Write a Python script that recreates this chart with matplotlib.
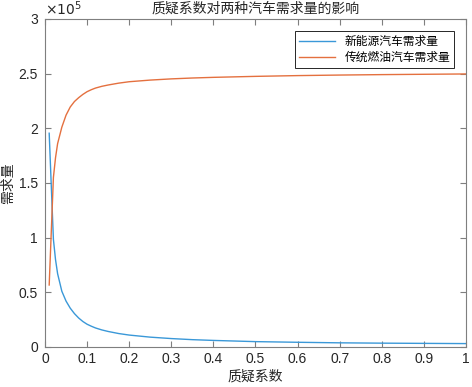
# -*- coding: utf-8 -*-
# 质疑系数对两种汽车需求量的影响 (MATLAB 风格图)
import matplotlib
matplotlib.use('Agg')
import matplotlib.pyplot as plt
from matplotlib.ticker import FuncFormatter

# 数据: 质疑系数 / 需求量
k = [0.01, 0.02, 0.025, 0.03, 0.04, 0.05, 0.06, 0.07, 0.08, 0.09, 0.10, 0.11,
     0.12, 0.135, 0.15, 0.175, 0.20, 0.25, 0.30, 0.35, 0.40, 0.50, 0.60, 0.70,
     0.80, 0.90, 1.00]
ev = [195500, 98500, 80000, 67000, 51000, 42000, 35500, 30500, 26500, 23300,
      20800, 19000, 17400, 15600, 14200, 12300, 10900, 9000, 7700, 6700, 6000,
      4900, 4300, 3800, 3500, 3300, 3100]
fuel = [56700, 155000, 173000, 186000, 201000, 212000, 219500, 224500, 228000,
        231000, 233500, 235300, 236800, 238400, 239600, 241300, 242600, 244100,
        245200, 246000, 246600, 247500, 248200, 248700, 249100, 249400, 249700]

labels = ['新能源汽车需求量', '传统燃油汽车需求量']
xticks = [0, 0.1, 0.2, 0.3, 0.4, 0.5, 0.6, 0.7, 0.8, 0.9, 1]
yticks = [0, 50000, 100000, 150000, 200000, 250000, 300000]

cjk = ['Noto Sans CJK SC', 'DejaVu Sans']
plt.rcParams['font.family'] = ['Liberation Sans', 'DejaVu Sans']

fig = plt.figure(figsize=(4.72, 3.87), dpi=100)
ax = fig.add_axes([0.0953, 0.1034, 0.892, 0.8476])

ax.plot(k, ev, color='#3A98D8', lw=1.0, label=labels[0])
ax.plot(k, fuel, color='#E4703F', lw=1.0, label=labels[1])

ax.set_xlim(0, 1)
ax.set_ylim(0, 300000)
ax.set_xticks(xticks)
ax.set_yticks(yticks)
ax.xaxis.set_major_formatter(FuncFormatter(lambda v, p: '%g' % v))
ax.yaxis.set_major_formatter(FuncFormatter(lambda v, p: '%g' % (v / 1e5)))
ax.tick_params(direction='in', length=4, width=0.8, colors='#7f7f7f',
               labelcolor='#262626', labelsize=10, top=True, right=True)
ax.tick_params(axis='y', pad=5)
for s in ax.spines.values():
    s.set_color('#7f7f7f')
    s.set_linewidth(0.8)

ax.text(0.0, 1.003, r'$\times10^5$', transform=ax.transAxes, fontsize=10,
        color='#262626', ha='left', va='bottom')

ax.set_title('质疑系数对两种汽车需求量的影响', family=cjk, fontsize=10,
             color='#262626', pad=5)
ax.set_xlabel('质疑系数', family=cjk, fontsize=10, color='#262626', labelpad=3)
ax.set_ylabel('需求量', family=cjk, fontsize=10, color='#262626')
ax.yaxis.set_label_coords(-0.07, 0.5)

leg = ax.legend(loc='upper right', prop={'family': cjk, 'size': 8.5},
                fancybox=False, edgecolor='#262626', framealpha=1,
                handlelength=3.0, borderaxespad=1.0, labelspacing=0.25,
                borderpad=0.35)
leg.get_frame().set_linewidth(0.7)

plt.savefig('out.png', dpi=100)
